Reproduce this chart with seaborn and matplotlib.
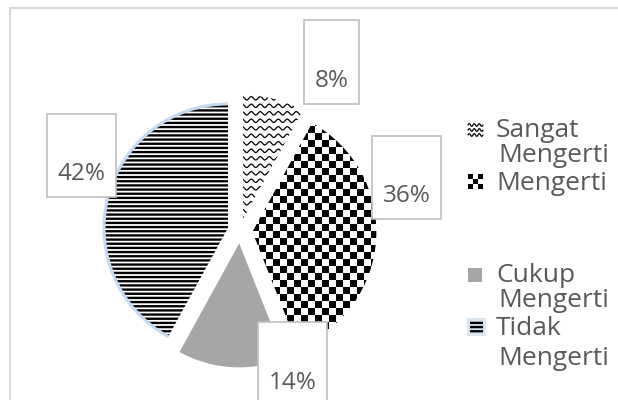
import numpy as np
import matplotlib
matplotlib.use("Agg")
import matplotlib.pyplot as plt
import seaborn as sns
from matplotlib.patches import Rectangle, Arc
from matplotlib.colors import ListedColormap

# ---------------- data ----------------
categories = ["Sangat Mengerti", "Mengerti", "Cukup Mengerti", "Tidak Mengerti"]
percentages = [8, 36, 14, 42]
pct_labels = ["8%", "36%", "14%", "42%"]

# ---------------- style ----------------
sns.set_theme(style="white")
plt.rcParams["font.family"] = ["Open Sans", "DejaVu Sans"]
plt.rcParams["hatch.linewidth"] = 1.7
plt.rcParams["hatch.color"] = "black"

TXT = "#595959"
BOX_EC = "#bfbfbf"
GRAY = sns.color_palette(["#a6a6a6"])[0]
FS = 17.5
FS_LEG = 19

fig = plt.figure(figsize=(6.18, 4.0), dpi=100)
ax = fig.add_axes([0, 0, 1, 1])

# pixel -> data helpers (pie radius = 1 data unit)
R, CX, CY = 124.0, 240.0, 231.0
def X(px):
    return (px - CX) / R
def Y(py):
    return (CY - py) / R

wedges, _ = ax.pie(percentages, explode=[0.1] * 4, startangle=90,
                   counterclock=False, radius=1, center=(0, 0),
                   colors=["white", "white", GRAY, "white"],
                   wedgeprops=dict(linewidth=0, edgecolor="none"))

# Tidak Mengerti: horizontal lines
w_t = wedges[3]
w_t.set_edgecolor("black")
w_t.set_linewidth(0)
w_t.set_hatch("----")
glow = Arc(w_t.center, 2 * w_t.r, 2 * w_t.r, theta1=w_t.theta1, theta2=w_t.theta2,
           ec="#c5d9f1", lw=2.2, zorder=3)
ax.add_patch(glow)

# Mengerti: checkerboard
cell = 7.0 / R
x0, y0 = -0.3, -1.3
nc = int(1.8 / cell) + 1
nr = int(2.5 / cell) + 1
checker = np.add.outer(np.arange(nr), np.arange(nc)) % 2
im = ax.imshow(checker, cmap=ListedColormap(["black", "white"]),
               extent=(x0, x0 + nc * cell, y0, y0 + nr * cell),
               interpolation="nearest", zorder=2)
im.set_clip_path(wedges[1])

# Sangat Mengerti: wavy lines
xs = np.linspace(-0.1, 0.8, 600)
for yy in np.arange(-0.2, 1.3, 7.5 / R):
    ys = yy + (1.7 / R) * np.sin(2 * np.pi * xs / (9.0 / R))
    ln, = ax.plot(xs, ys, color="black", lw=0.9, zorder=2)
    ln.set_clip_path(wedges[0])

# ---------------- data labels ----------------
label_box_centers = [(331.5, 62), (406.5, 177.5), (292.5, 364), (81.5, 155.5)]
for lab, (bx, by) in zip(pct_labels, label_box_centers):
    ax.text(X(bx), Y(by), "\n" + lab, ha="center", va="center",
            fontsize=FS, color=TXT, linespacing=1.75, zorder=5,
            bbox=dict(boxstyle="square,pad=0.45", fc="white", ec=BOX_EC, lw=1.2))

# ---------------- legend (manual) ----------------
line_baselines = [[137, 162], [190], [282, 307], [335, 365]]
marker_centers = [130, 182, 275, 327]
for i, (cat, bls) in enumerate(zip(categories, line_baselines)):
    words = cat.split() if len(bls) > 1 else [cat]
    for j, (wd, bl) in enumerate(zip(words, bls)):
        ax.text(X(496 + 2 * j), Y(bl), wd, ha="left", va="baseline",
                fontsize=FS_LEG, color=TXT, zorder=5)

mx0, mx1 = 468, 483
# Sangat marker: wavy
mxs = np.linspace(X(mx0), X(mx1), 100)
for dy in (-5, 0, 5):
    ax.plot(mxs, Y(marker_centers[0] + dy) + (1.3 / R) * np.sin(2 * np.pi * (mxs - X(mx0)) / (5.0 / R)),
            color="black", lw=0.9, zorder=5)
# Mengerti marker: checker
mc = np.add.outer(np.arange(3), np.arange(3)) % 2
ax.imshow(mc, cmap=ListedColormap(["black", "white"]),
          extent=(X(mx0), X(mx1), Y(marker_centers[1] + 7.5), Y(marker_centers[1] - 7.5)),
          interpolation="nearest", zorder=5)
# Cukup marker: gray square
ax.add_patch(Rectangle((X(mx0), Y(marker_centers[2] + 7)), 14 / R, 14 / R,
                       fc=GRAY, ec="none", zorder=5))
# Tidak marker: light-blue square with lines
ax.add_patch(Rectangle((X(467), Y(marker_centers[3] + 9)), 19 / R, 18 / R,
                       fc="#dbe6f3", ec="none", zorder=4))
ax.add_patch(Rectangle((X(470), Y(marker_centers[3] + 6)), 13 / R, 12 / R,
                       fc="#dbe6f3", ec="black", lw=0, hatch="----", zorder=5))

# chart frame
ax.add_patch(Rectangle((X(10), Y(600)), X(900) - X(10), Y(8) - Y(600),
                       fill=False, ec="#d9d9d9", lw=1.5, zorder=0))

ax.set_xlim(X(0), X(618))
ax.set_ylim(Y(400), Y(0))
ax.set_aspect("equal")
ax.set_axis_off()

fig.savefig("out.png", dpi=100, facecolor="white")
